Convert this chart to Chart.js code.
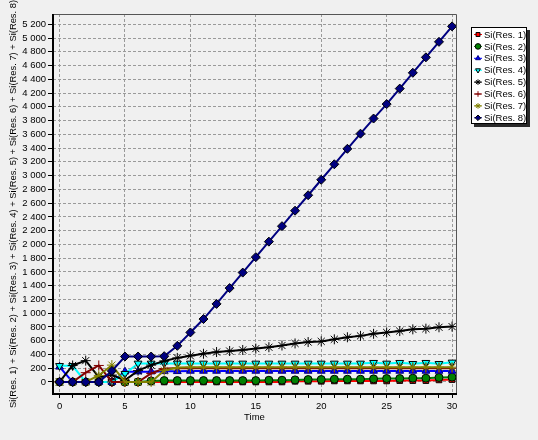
<!DOCTYPE html>
<html>
<head>
<meta charset="utf-8">
<script src="https://cdn.jsdelivr.net/npm/chart.js@4.4.0/dist/chart.umd.min.js"></script>
<style>
    html, body { margin: 0; padding: 0; background: #f0f0f0; }
    #wrap { width: 538px; height: 440px; }
</style>
</head>
<body>
<div id="wrap"><canvas id="chart" width="538" height="440"></canvas></div>
<script>
// Time steps 0..30
const times = [0, 1, 2, 3, 4, 5, 6, 7, 8, 9, 10, 11, 12, 13, 14, 15, 16, 17, 18, 19, 20, 21, 22, 23, 24, 25, 26, 27, 28, 29, 30];

// Series values
const res1 = [0, 0, 0, 0, 0, 0, 0, 0, 0, 0, 0, 0, 0, 0, 0, 0, 0, 0, 10, 10, 10, 15, 15, 15, 15, 15, 20, 20, 20, 30, 35];
const res2 = [0, 0, 0, 0, 0, 0, 0, 15, 20, 20, 20, 20, 20, 20, 20, 20, 25, 25, 30, 35, 35, 40, 40, 40, 45, 50, 50, 55, 55, 65, 70];
const res3 = [220, 0, 0, 0, 0, 150, 150, 150, 155, 155, 160, 160, 160, 160, 160, 160, 160, 160, 160, 160, 160, 160, 160, 160, 160, 160, 160, 160, 160, 160, 160];
const res4 = [235, 235, 0, 0, 0, 120, 270, 270, 270, 270, 270, 270, 270, 270, 270, 270, 270, 270, 270, 270, 270, 270, 270, 270, 280, 270, 280, 265, 280, 265, 285];
const res5 = [0, 240, 310, 70, 100, 25, 165, 245, 305, 350, 380, 410, 435, 450, 465, 485, 505, 530, 560, 580, 590, 620, 650, 670, 700, 720, 740, 765, 775, 795, 805];
const res6 = [0, 0, 135, 240, 0, 0, 0, 125, 195, 200, 200, 200, 200, 200, 200, 200, 200, 200, 200, 200, 200, 200, 200, 200, 200, 200, 200, 200, 200, 200, 200];
const res7 = [0, 0, 0, 95, 245, 0, 0, 0, 165, 210, 215, 215, 215, 215, 215, 215, 215, 215, 215, 215, 215, 215, 215, 215, 215, 215, 215, 215, 215, 215, 215];
const res8 = [0, 0, 0, 0, 160, 370, 370, 370, 375, 525, 720, 915, 1135, 1365, 1590, 1815, 2040, 2265, 2490, 2715, 2940, 3165, 3390, 3610, 3830, 4040, 4265, 4495, 4720, 4945, 5170];

const seriesNames = ['Si(Res. 1)', 'Si(Res. 2)', 'Si(Res. 3)', 'Si(Res. 4)', 'Si(Res. 5)', 'Si(Res. 6)', 'Si(Res. 7)', 'Si(Res. 8)'];
const seriesValues = [res1, res2, res3, res4, res5, res6, res7, res8];

// Axis ticks
const xTicks = times;
const yTicks = [0, 200, 400, 600, 800, 1000, 1200, 1400, 1600, 1800, 2000, 2200, 2400, 2600, 2800, 3000, 3200, 3400, 3600, 3800, 4000, 4200, 4400, 4600, 4800, 5000, 5200];

const yTitle = seriesNames.join(' + ');

// Styles per series
const styles = [
    { color: '#ff0000', fill: '#ff0000', edge: '#000', shape: 'rect', rot: 0, r: 4 },
    { color: '#008000', fill: '#008000', edge: '#000', shape: 'circle', rot: 0, r: 4 },
    { color: '#0000ff', fill: '#0000ff', edge: '#000080', shape: 'triangle', rot: 0, r: 4.5 },
    { color: '#00ffff', fill: '#00ffff', edge: '#000', shape: 'triangle', rot: 180, r: 4.5 },
    { color: '#000000', fill: '#000000', edge: '#000', shape: 'star', rot: 0, r: 5 },
    { color: '#800000', fill: '#800000', edge: '#800000', shape: 'cross', rot: 0, r: 5 },
    { color: '#808000', fill: '#808000', edge: '#808000', shape: 'star', rot: 0, r: 5 },
    { color: '#000080', fill: '#000080', edge: '#000', shape: 'rectRot', rot: 0, r: 4.5 }
];

const FONT = "'Liberation Sans', Arial, sans-serif";

function fmt(v) {
    return String(v).replace(/\B(?=(\d{3})+(?!\d))/g, ' ');
}

const datasets = seriesValues.map((vals, i) => ({
    label: seriesNames[i],
    data: times.map((t, k) => ({ x: t, y: vals[k] })),
    borderColor: styles[i].color,
    backgroundColor: styles[i].fill,
    borderWidth: 2,
    tension: 0,
    pointStyle: styles[i].shape,
    pointRotation: styles[i].rot,
    pointRadius: styles[i].r,
    pointBackgroundColor: styles[i].fill,
    pointBorderColor: styles[i].edge,
    pointBorderWidth: 1,
    order: 7 - i
}));

// background fill + chart frame
const framePlugin = {
    id: 'frame',
    beforeDraw(chart) {
        const ctx = chart.ctx;
        ctx.save();
        ctx.fillStyle = '#f0f0f0';
        ctx.fillRect(0, 0, chart.width, chart.height);
        ctx.restore();
    },
    afterDatasetsDraw(chart) {
        const ctx = chart.ctx;
        const a = chart.chartArea;
        ctx.save();
        ctx.strokeStyle = '#555';
        ctx.lineWidth = 1;
        ctx.beginPath();
        ctx.moveTo(a.left, a.top + 0.5);
        ctx.lineTo(a.right + 0.5, a.top + 0.5);
        ctx.lineTo(a.right + 0.5, a.bottom);
        ctx.stroke();
        ctx.strokeStyle = '#000';
        ctx.lineWidth = 2;
        ctx.beginPath();
        ctx.moveTo(a.left, a.top);
        ctx.lineTo(a.left, a.bottom);
        ctx.lineTo(a.right + 1, a.bottom);
        ctx.stroke();
        ctx.restore();
    }
};

// boxed legend with shadow, top right
const legendPlugin = {
    id: 'boxLegend',
    afterDraw(chart) {
        const ctx = chart.ctx;
        const x = 471, y = 27, w = 56, h = 97;
        ctx.save();
        ctx.fillStyle = '#2a2a2a';
        ctx.fillRect(x + 3, y + 3, w, h);
        ctx.fillStyle = '#fff';
        ctx.fillRect(x, y, w, h);
        ctx.strokeStyle = '#000';
        ctx.lineWidth = 1;
        ctx.strokeRect(x + 0.5, y + 0.5, w - 1, h - 1);
        ctx.font = '9.5px ' + FONT;
        ctx.textBaseline = 'middle';
        ctx.textAlign = 'left';
        seriesNames.forEach((name, i) => {
            const cy = 34.5 + i * 11.9;
            const s = styles[i];
            ctx.strokeStyle = s.color;
            ctx.lineWidth = 1;
            ctx.beginPath();
            ctx.moveTo(474, cy);
            ctx.lineTo(482, cy);
            ctx.stroke();
            ctx.fillStyle = s.fill;
            ctx.strokeStyle = s.edge;
            Chart.helpers.drawPoint(ctx, { pointStyle: s.shape, rotation: s.rot, radius: 2.8, borderWidth: 1 }, 478, cy);
            ctx.fillStyle = '#000';
            ctx.fillText(name, 484, cy + 0.5);
        });
        ctx.restore();
    }
};

document.addEventListener('DOMContentLoaded', function () {
    const ctx = document.getElementById('chart').getContext('2d');
    new Chart(ctx, {
        type: 'line',
        data: { datasets: datasets },
        options: {
            responsive: false,
            animation: false,
            devicePixelRatio: 1,
            layout: { padding: { top: 14, right: 82, bottom: 0, left: 0 } },
            plugins: {
                legend: { display: false },
                tooltip: { enabled: false }
            },
            scales: {
                x: {
                    type: 'linear',
                    min: -0.5,
                    max: 30.3,
                    afterBuildTicks: s => { s.ticks = xTicks.map(v => ({ value: v })); },
                    afterFit: s => { s.height = 46; },
                    border: { display: false, dash: [3, 2] },
                    grid: {
                        color: c => (c.tick && c.tick.value % 5 === 0) ? '#9a9a9a' : 'rgba(0,0,0,0)',
                        lineWidth: 1,
                        drawTicks: true,
                        tickLength: 4,
                        tickColor: '#000',
                        tickBorderDash: []
                    },
                    ticks: {
                        autoSkip: false,
                        maxRotation: 0,
                        padding: 3,
                        color: '#000',
                        font: { family: FONT, size: 9.5 },
                        callback: v => (v % 5 === 0 ? String(v) : '')
                    },
                    title: {
                        display: true,
                        text: 'Time',
                        color: '#000',
                        font: { family: FONT, size: 9.5 },
                        padding: { top: 0, bottom: 17 }
                    }
                },
                y: {
                    type: 'linear',
                    min: -175,
                    max: 5350,
                    afterBuildTicks: s => { s.ticks = yTicks.map(v => ({ value: v })); },
                    afterFit: s => { s.width = 53; },
                    border: { display: false, dash: [3, 2] },
                    grid: {
                        color: '#9a9a9a',
                        lineWidth: 1,
                        drawTicks: true,
                        tickLength: 5,
                        tickColor: '#000',
                        tickBorderDash: []
                    },
                    ticks: {
                        autoSkip: false,
                        padding: 2,
                        color: '#000',
                        font: { family: FONT, size: 9.5 },
                        callback: v => fmt(v)
                    },
                    title: {
                        display: true,
                        text: yTitle,
                        color: '#000',
                        font: { family: FONT, size: 9.4 },
                        padding: { top: 8, bottom: 0 }
                    }
                }
            }
        },
        plugins: [framePlugin, legendPlugin]
    });
});
</script>
</body>
</html>
